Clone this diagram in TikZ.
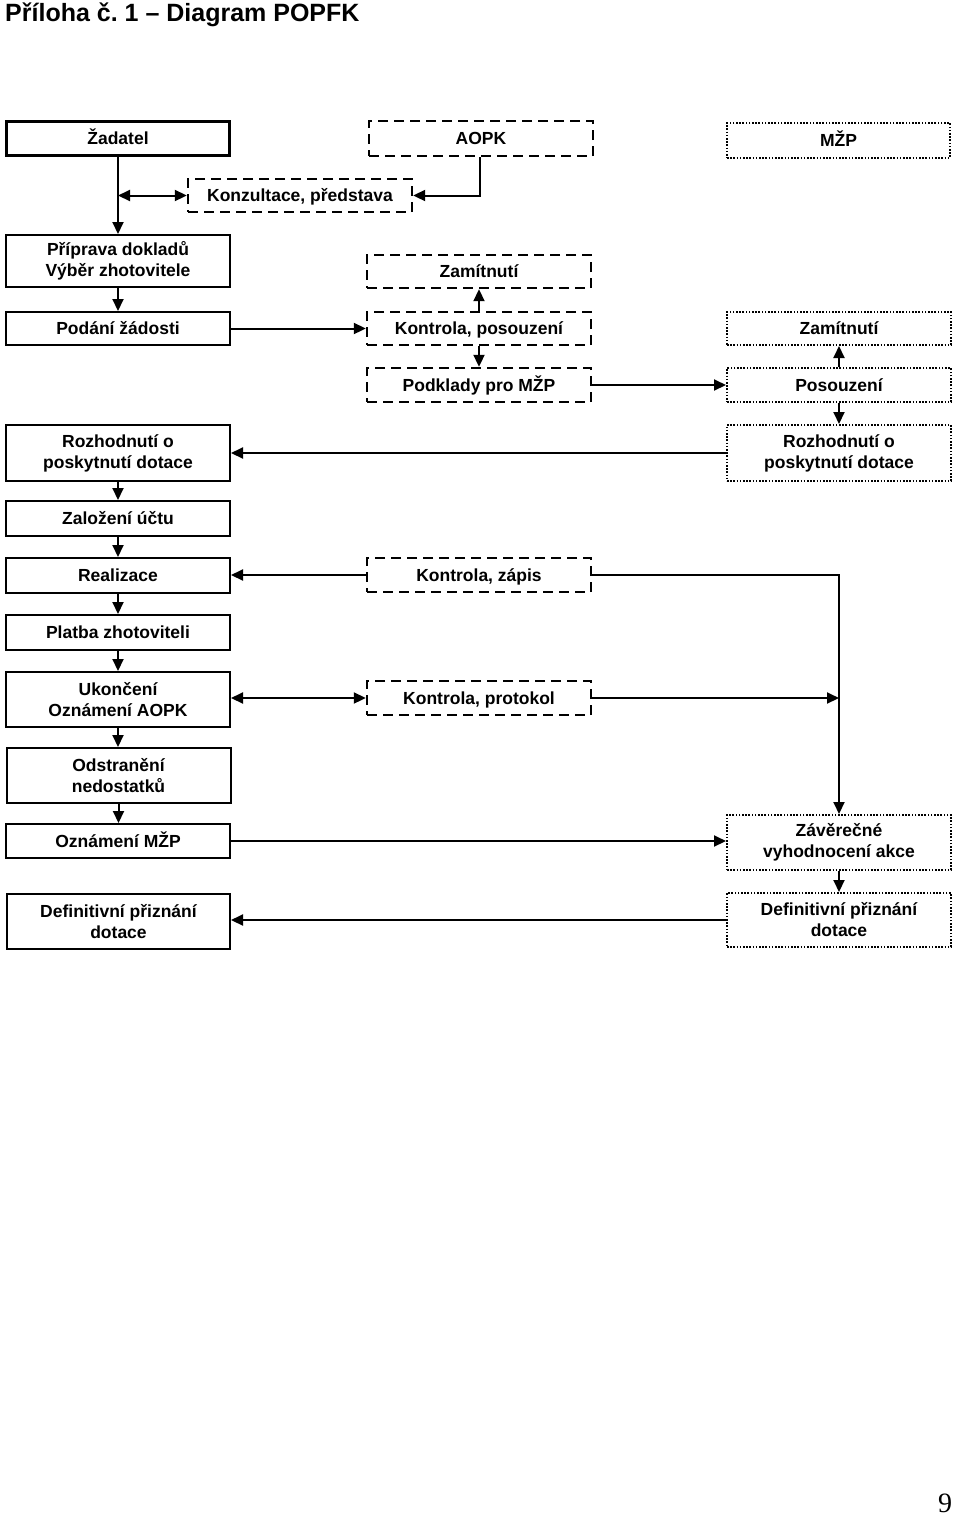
\documentclass[tikz,border=0pt]{standalone}
\usepackage{fontspec}
\setmainfont{Liberation Sans}
\newfontfamily\serifnum{Liberation Serif}
\usetikzlibrary{arrows.meta}
\frenchspacing
\begin{document}
\begin{tikzpicture}[x=1pt,y=-1pt,
  lab/.style={font=\bfseries\fontsize{17.5}{21}\selectfont, align=center, inner sep=0pt},
  one/.style={text height=12.5pt, text depth=0pt},
  sbox/.style={lab, draw, line width=2pt},
  tbox/.style={lab, draw, line width=3.2pt},
  dbox/.style={lab, draw, line width=2.4pt, dash pattern=on 10pt off 6pt},
  obox/.style={lab, draw, line width=2pt, dash pattern=on 1.6pt off 1.6pt},
  conn/.style={line width=2pt},
  arr/.style={conn, -{Triangle[length=12pt,width=11pt]}},
  darr/.style={conn, {Triangle[length=12pt,width=11pt]}-{Triangle[length=12pt,width=11pt]}},
]
\useasboundingbox (0,0) rectangle (960,1519);
\node[anchor=base west, font=\bfseries\fontsize{25}{30}\selectfont, inner sep=0pt] (title) at (5,21) {Příloha č. 1 – Diagram POPFK};
\node[anchor=base, font=\serifnum\fontsize{28}{28}\selectfont, inner sep=0pt] (pg) at (945,1512) {9};

% left column
\node[tbox, one, minimum width=223pt, minimum height=34pt] (zad) at (118,138.5) {Žadatel};
\node[sbox, minimum width=224pt, minimum height=52pt] (prip) at (118,261) {Příprava dokladů\\Výběr zhotovitele};
\node[sbox, one, minimum width=224pt, minimum height=33pt] (pod) at (118,328.5) {Podání žádosti};
\node[sbox, minimum width=224pt, minimum height=56pt] (roz1) at (118,453) {Rozhodnutí o\\poskytnutí dotace};
\node[sbox, one, minimum width=224pt, minimum height=35pt] (zal) at (118,518.5) {Založení účtu};
\node[sbox, one, minimum width=224pt, minimum height=35pt] (real) at (118,575.5) {Realizace};
\node[sbox, one, minimum width=224pt, minimum height=35pt] (plat) at (118,632.5) {Platba zhotoviteli};
\node[sbox, minimum width=224pt, minimum height=55pt] (ukon) at (118,699.5) {Ukončení\\Oznámení AOPK};
\node[sbox, minimum width=224pt, minimum height=55pt] (odst) at (118.5,775.5) {Odstranění\\nedostatků};
\node[sbox, one, minimum width=224pt, minimum height=34pt] (ozn) at (118,841) {Oznámení MŽP};
\node[sbox, minimum width=223pt, minimum height=55pt] (def1) at (118.5,921.5) {Definitivní přiznání\\dotace};

% middle column
\node[dbox, one, minimum width=224pt, minimum height=35pt] (aopk) at (481,138.5) {AOPK};
\node[dbox, one, minimum width=224pt, minimum height=33pt] (konz) at (300,195.5) {Konzultace, představa};
\node[dbox, one, minimum width=224pt, minimum height=33pt] (zam1) at (479,271.5) {Zamítnutí};
\node[dbox, one, minimum width=224pt, minimum height=33pt] (kon1) at (479,328.5) {Kontrola, posouzení};
\node[dbox, one, minimum width=224pt, minimum height=34pt] (podk) at (479,385) {Podklady pro MŽP};
\node[dbox, one, minimum width=224pt, minimum height=34pt] (kzap) at (479,575) {Kontrola, zápis};
\node[dbox, one, minimum width=224pt, minimum height=34pt] (kprot) at (479,698) {Kontrola, protokol};

% right column
\node[obox, one, minimum width=223pt, minimum height=35pt] (mzp) at (838.5,140.5) {MŽP};
\node[obox, one, minimum width=224pt, minimum height=33pt] (zam2) at (839,328.5) {Zamítnutí};
\node[obox, one, minimum width=224pt, minimum height=34pt] (pos) at (839,385) {Posouzení};
\node[obox, minimum width=224pt, minimum height=56pt] (roz2) at (839,453) {Rozhodnutí o\\poskytnutí dotace};
\node[obox, minimum width=224pt, minimum height=55pt] (zav) at (839,842.5) {Závěrečné\\vyhodnocení akce};
\node[obox, minimum width=224pt, minimum height=54pt] (def2) at (839,920) {Definitivní přiznání\\dotace};

% connectors
\draw[arr] (zad.south) -- (prip.north);
\coordinate (j1) at (zad.south |- konz.west);
\draw[darr] (j1) -- (konz.west);
\draw[arr] ([xshift=-1pt]aopk.south) |- (konz.east);
\draw[arr] (prip) -- (pod);
\draw[arr] (pod.east) -- (kon1.west);
\draw[arr] (kon1) -- (zam1);
\draw[arr] (kon1) -- (podk);
\draw[arr] (podk) -- (pos);
\draw[arr] (pos) -- (zam2);
\draw[arr] (pos) -- (roz2);
\draw[arr] (roz2) -- (roz1);
\draw[arr] (roz1) -- (zal);
\draw[arr] (zal) -- (real);
\draw[arr] (real) -- (plat);
\draw[arr] (plat) -- (ukon);
\draw[arr] (ukon.south) -- (ukon.south |- odst.north);
\draw[arr] (odst.south) -- (odst.south |- ozn.north);
\draw[arr] (kzap.west) -- (kzap.west -| real.east);
\coordinate (c1) at (zav.north |- kzap.east);
\draw[arr] (kzap.east) -- (c1) -- (zav.north);
\draw[darr] (kprot.west -| ukon.east) -- (kprot.west);
\coordinate (c2) at (zav.north |- kprot.east);
\draw[arr] (kprot.east) -- (c2);
\draw[arr] (ozn.east) -- (ozn.east -| zav.west);
\draw[arr] (zav) -- (def2);
\draw[arr] (def2.west) -- (def2.west -| def1.east);
\end{tikzpicture}
\end{document}
